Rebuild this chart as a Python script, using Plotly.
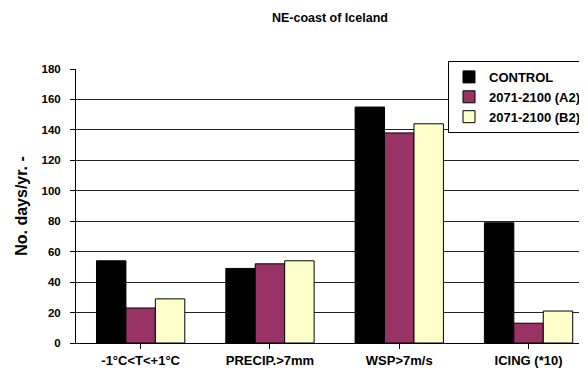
import plotly.graph_objects as go

categories = ["-1°C<T<+1°C", "PRECIP.>7mm", "WSP>7m/s", "ICING (*10)"]
control = [54, 49, 155, 79]
a2 = [23, 52, 138, 13]
b2 = [29, 54, 144, 21]
series_names = ["CONTROL", "2071-2100 (A2)", "2071-2100 (B2)"]
colors = ["#000000", "#993366", "#FFFFCC"]

fig = go.Figure()
for name, vals, col in zip(series_names, [control, a2, b2], colors):
    fig.add_trace(go.Bar(
        x=list(range(len(categories))), y=vals, name=name,
        marker=dict(color=col, line=dict(color="#000000", width=1)),
    ))

font = "Liberation Sans, Arial, sans-serif"
# page body has an 8px default margin, so the figure is 8px smaller than the window
fig.update_layout(
    width=579, height=366,
    margin=dict(l=68, r=0, t=61, b=31),
    paper_bgcolor="white", plot_bgcolor="white",
    barmode="group", bargap=0.317, bargroupgap=0,
    title=dict(text="NE-coast of Iceland", x=0.556, xanchor="center", xref="container",
               y=0.975, yanchor="middle", yref="container",
               font=dict(family=font, size=12.5, color="black", weight="bold")),
    font=dict(family=font, color="black"),
    legend=dict(x=1.0, y=0.898, xanchor="right", yanchor="middle",
                bgcolor="white", bordercolor="black", borderwidth=1,
                font=dict(family=font, size=13, color="black", weight="bold"),
                traceorder="normal", itemwidth=30),
    showlegend=True,
)
fig.update_xaxes(
    range=[-0.5, 3.452], tickmode="array",
    tickvals=list(range(len(categories))),
    ticktext=categories,
    tickfont=dict(family=font, size=13, color="black", weight="bold"),
    showline=True, linecolor="black", linewidth=1,
    ticks="outside", ticklen=5, tickcolor="black", tickson="boundaries",
    showgrid=False, zeroline=False, automargin=False,
)
fig.update_yaxes(
    range=[0, 180], dtick=20,
    tickfont=dict(family=font, size=11.5, color="black", weight="bold"),
    tickformat="d", ticklabelstandoff=7,
    showline=True, linecolor="black", linewidth=1,
    ticks="outside", ticklen=5, tickcolor="black",
    showgrid=True, gridcolor="#222222", gridwidth=1,
    zeroline=False, automargin=False,
    title=dict(text="No. days/yr. -", font=dict(family=font, size=16, color="black", weight="bold"),
               standoff=9),
)
fig.write_html("out.html")
